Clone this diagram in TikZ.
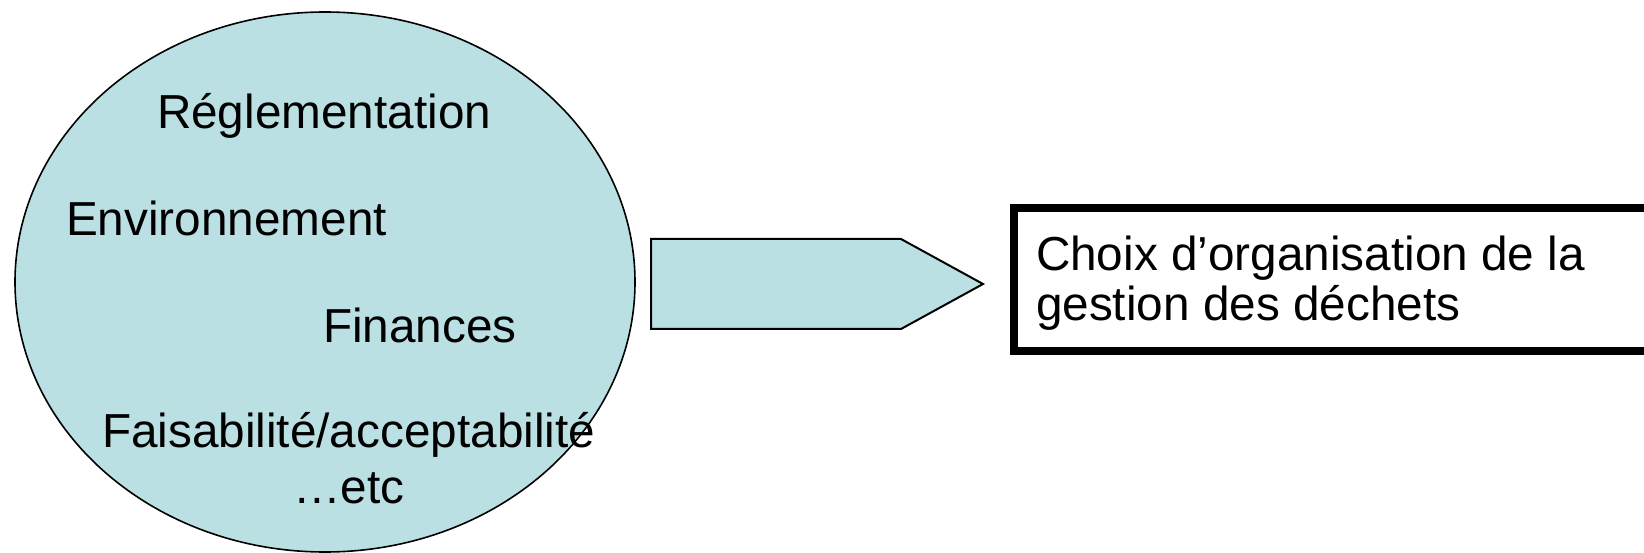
\documentclass[tikz,border=0pt]{standalone}
\usepackage{fontspec}
\setmainfont{Liberation Sans}
\usetikzlibrary{shapes.geometric}
\definecolor{fillblue}{RGB}{187,224,227}
\begin{document}
\begin{tikzpicture}[x=1pt,y=-1pt,
  lbl/.style={anchor=base west,inner sep=0pt,outer sep=0pt,font=\fontsize{47.7}{50}\selectfont},
  oval/.style={ellipse,draw=black,fill=fillblue,line width=1.6pt,inner sep=0pt,outer sep=0pt},
  blockarrow/.style={draw=black,fill=fillblue,line width=2pt,line join=miter},
  resultbox/.style={draw=black,line width=8pt,fill=white}]
\useasboundingbox (0,0) rectangle (1644,553);
\node[oval,minimum width=620pt,minimum height=540pt] (circle) at (325,282) {};
\node[lbl] (regl) at (157,129) {Réglementation};
\node[lbl] (env) at (66,236) {Environnement};
\node[lbl] (fin) at (323,342) {Finances};
\node[lbl] (fais) at (102,447) {Faisabilité/acceptabilité};
\node[lbl] (etc) at (293,503) {…etc};
\draw[blockarrow] (651,239) -- (901,239) -- (983,284) -- (901,329) -- (651,329) -- cycle;
\draw[resultbox] (1014,208) rectangle (1700,351);
\node[lbl] (choix1) at (1036,271) {Choix d’organisation de la};
\node[lbl] (choix2) at (1036,321) {gestion des déchets};
\end{tikzpicture}
\end{document}
